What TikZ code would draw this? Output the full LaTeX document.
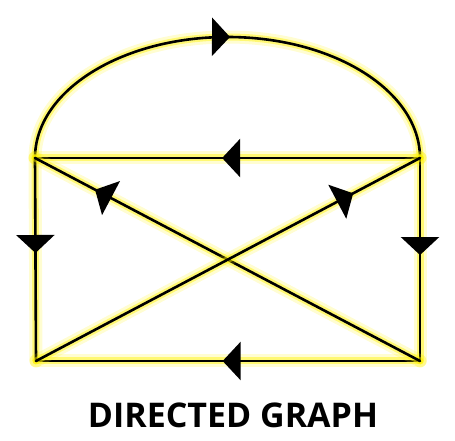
\documentclass[tikz,border=0pt]{standalone}
\usepackage{fontspec}
\newfontfamily\titlefont{Open Sans}
\usetikzlibrary{arrows.meta,decorations.markings}
\tikzset{
	glow/.style={
		preaction={draw=yellow,line width=13pt,opacity=0.18},
		preaction={draw=yellow,line width=7pt,opacity=0.45}
	},
	edge/.style={glow,draw=black,line width=2.6pt},
	flow/.style={
		postaction={decorate,decoration={markings,
			mark=at position #1 with {\arrow{Triangle[length=18pt,width=38pt]}}}}
	}
}
\begin{document}
\begin{tikzpicture}[x=1pt,y=1pt,line cap=round,line join=round]
		\useasboundingbox (0,0) rectangle (455,441);
		\coordinate (tl) at (35,283);
		\coordinate (tr) at (420,283);
		\coordinate (bl) at (36,80);
		\coordinate (br) at (420,80);
		% arc over the top
		\draw [edge,flow=0.505] (tl) arc[start angle=180,end angle=0,x radius=192.5,y radius=121];
		\draw [edge,flow=0.514] (tr) -- (tl);
		\draw [edge,flow=0.514] (br) -- (bl);
		\draw [edge,flow=0.468] (tl) -- (bl);
		\draw [edge,flow=0.478] (tr) -- (br);
		\draw [edge,flow=0.844] (br) -- (tl);
		\draw [edge,flow=0.826] (bl) -- (tr);
		\node [font=\titlefont\bfseries\fontsize{34}{40}\selectfont] (title) at (233,26) {DIRECTED GRAPH};
	\end{tikzpicture}
\end{document}
